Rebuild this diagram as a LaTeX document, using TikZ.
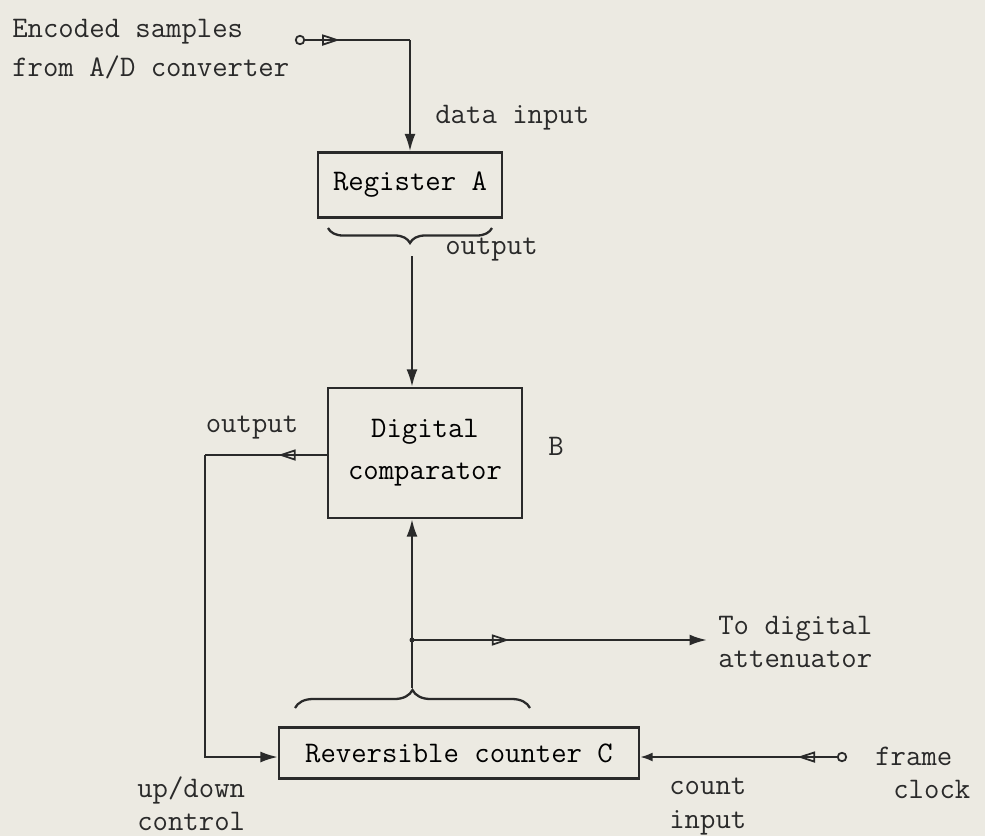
\documentclass[tikz,border=0pt]{standalone}
\usepackage{fontspec}
\usepackage{tikz}
\usetikzlibrary{arrows.meta, decorations.pathreplacing, decorations.markings}
\definecolor{PaperGrey}{HTML}{ECEAE2}
\definecolor{InkBlack}{HTML}{2A2A2A}
\tikzset{
    % Blocks
    blockbox/.style={
        rectangle,
        draw=InkBlack,
        line width=1.3pt,
        text centered,
        align=center,
        font=\fontsize{17}{24}\selectfont\ttfamily
    },
    % Labels
    typelabel/.style={
        font=\fontsize{17}{19}\selectfont\ttfamily,
        text=InkBlack,
        inner sep=0pt,
        align=left
    },
    terminal/.style={
        circle,
        draw=InkBlack,
        fill=PaperGrey,
        line width=1pt,
        inner sep=0pt,
        minimum size=0.17cm
    },
    % Lines
    sigline/.style={
        draw=InkBlack,
        line width=1.3pt
    },
    endarrow/.style={
        sigline,
        -{Latex[length=3.5mm,width=2.2mm]}
    },
    midarrow/.style={
        postaction={decorate},
        decoration={markings,
            mark=at position #1 with {\arrow{Triangle[open,length=3.5mm,width=2.2mm,line width=1pt]}}}
    },
    bracedown/.style={
        sigline,
        decorate,
        decoration={brace, amplitude=0.3cm}
    }
}
\begin{document}
\begin{tikzpicture}[x=0.02cm, y=-0.02cm]
    \fill[PaperGrey] (0,0) rectangle (985,836);
    \useasboundingbox (0,0) rectangle (985,836);

    % Blocks
    \node[blockbox, minimum width=3.68cm, minimum height=1.3cm] (regA) at (410,185) {Register A};
    \node[blockbox, minimum width=3.88cm, minimum height=2.6cm] (cmp) at (425,453) {Digital\\comparator};
    \node[blockbox, minimum width=7.2cm, minimum height=1.02cm] (ctr) at (459,753) {Reversible counter C};

    % Terminals
    \node[terminal] (inA) at (300,40) {};
    \node[terminal] (clk) at (842,757) {};

    % Labels
    \node[typelabel, anchor=north west] (srcLbl) at (12,19) {Encoded samples\\[3pt]from A/D converter};
    \node[typelabel, anchor=west] (dataLbl) at (435,118) {data input};
    \node[typelabel, anchor=west] (outALbl) at (445,250) {output};
    \node[typelabel] (outBLbl) at (252,428) {output};
    \node[typelabel] (bLbl) at (556,446) {B};
    \node[typelabel, anchor=north west] (attLbl) at (718,616) {To digital\\attenuator};
    \node[typelabel, anchor=north west] (udLbl) at (137,776) {up/down\\control};
    \node[typelabel, anchor=north west] (cntLbl) at (669,778) {count\\input};
    \node[typelabel, anchor=west] (frLbl) at (875,756) {frame};
    \node[typelabel, anchor=west] (ckLbl) at (893,789) {clock};

    % Corner and junction points
    \coordinate (cornerA) at (410,40);
    \coordinate (outA) at (412,256);
    \coordinate (outC) at (412,688);
    \coordinate (jn) at (412,640);
    \coordinate (attEnd) at (707,640);
    \coordinate (loopTop) at (205,455);
    \coordinate (loopBot) at (205,757);

    % Braces
    \draw[bracedown] (492,228) -- (328,228);
    \draw[bracedown, decoration={brace, amplitude=0.36cm}] (295,708) -- (530,708);

    % Arrows
    \draw[sigline, midarrow=0.33] (inA) -- (cornerA);
    \draw[endarrow] (cornerA) -- (regA.north);
    \draw[endarrow] (outA) -- (outA |- cmp.north);
    \draw[sigline, midarrow=0.4] (cmp.west |- loopTop) -- (loopTop);
    \draw[endarrow] (loopTop) -- (loopBot) -- (loopBot -| ctr.west);
    \draw[endarrow] (outC) -- (outC |- cmp.south);
    \draw[endarrow, midarrow=0.33] (jn) -- (attEnd);
    \fill[InkBlack] (jn) circle (0.05cm);
    \draw[sigline, midarrow=0.2, -{Latex[length=2.5mm,width=1.8mm]}] (clk) -- (clk -| ctr.east);
\end{tikzpicture}
\end{document}
